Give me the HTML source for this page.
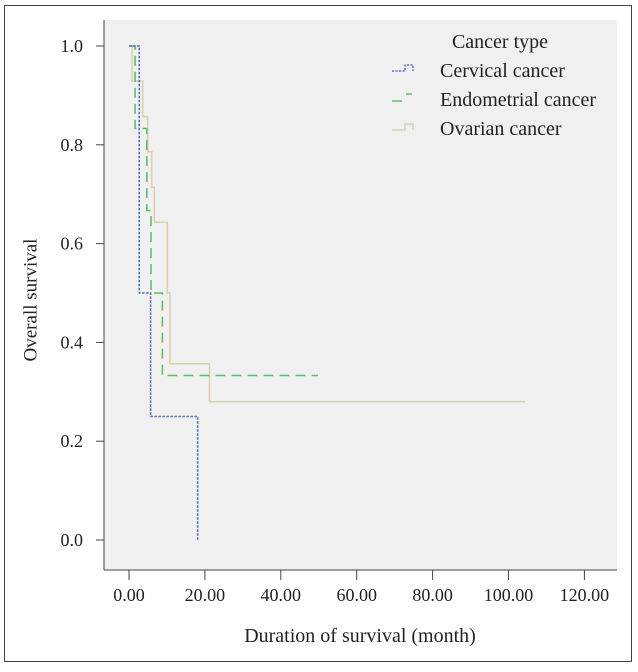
<!DOCTYPE html>
<html><head><meta charset="utf-8"><style>
html,body{margin:0;padding:0;background:#fff;}
svg text{font-family:"Liberation Serif",serif;fill:#222;}
</style></head><body>
<svg width="638" height="667" viewBox="0 0 638 667" xmlns="http://www.w3.org/2000/svg">
<rect x="4.5" y="5.5" width="627" height="656" fill="#fff" stroke="#444" stroke-width="1"/>
<rect x="104" y="20" width="513" height="550" fill="#f0f0f0"/>
<line x1="104" y1="20" x2="104" y2="570" stroke="#444"/>
<line x1="104" y1="570" x2="617" y2="570" stroke="#444"/>
<g id="yticks"></g>
<g id="xticks"></g>
<g id="series"></g>
<text x="32" y="300" font-size="19" text-anchor="middle" transform="rotate(-90 32 300)" dominant-baseline="middle">Overall survival</text>
<text x="360" y="642" font-size="20" text-anchor="middle">Duration of survival (month)</text>
<g>
<text x="500" y="48" font-size="20" text-anchor="middle">Cancer type</text>
<g>
<path d="M392 71 H405 V65 H413 V71" fill="none" stroke="#5a6fc0" stroke-width="1.5" stroke-dasharray="2,1.5"/>
<text x="440" y="77" font-size="20">Cervical cancer</text></g>
<g>
<path d="M392 101 H402 M406 94 H412" fill="none" stroke="#5cbf6a" stroke-width="1.5"/>
<text x="440" y="106" font-size="20">Endometrial cancer</text></g>
<g>
<path d="M392 130 H405 V124 H413 V130" fill="none" stroke="#d8d2b0" stroke-width="1.5"/>
<text x="440" y="135" font-size="20">Ovarian cancer</text></g>
</g>
</svg>
<script>
const xTicks=[0,20,40,60,80,100,120];
const xTickLabels=["0.00","20.00","40.00","60.00","80.00","100.00","120.00"];
const yTicks=[0,0.2,0.4,0.6,0.8,1.0];
const yTickLabels=["0.0","0.2","0.4","0.6","0.8","1.0"];
const cervicalTimes=[0,2.7,5.7,18.1];
const cervicalSurv=[1.0,0.5,0.25,0.0];
const endometrialTimes=[0,1.6,4.7,5.8,8.8];
const endometrialSurv=[1.0,0.833,0.667,0.5,0.333];
const endometrialEnd=49.8;
const ovarianTimes=[0,0.8,3.6,4.9,6.0,6.7,10.1,10.8,21.2];
const ovarianSurv=[1.0,0.929,0.857,0.786,0.714,0.643,0.5,0.357,0.28];
const ovarianEnd=104.4;

const NS="http://www.w3.org/2000/svg";
function X(v){return 129+v*3.795;}
function Y(s){return 540-s*494;}
const xg=document.getElementById('xticks'),yg=document.getElementById('yticks'),sg=document.getElementById('series');
xTicks.forEach((t,i)=>{
 const l=document.createElementNS(NS,'line');
 l.setAttribute('x1',X(t));l.setAttribute('x2',X(t));l.setAttribute('y1',570);l.setAttribute('y2',580);l.setAttribute('stroke','#444');
 
 
 xg.appendChild(l);
 const tx=document.createElementNS(NS,'text');
 tx.setAttribute('x',X(t));tx.setAttribute('y',601);tx.setAttribute('font-size','18');tx.setAttribute('text-anchor','middle');
 tx.textContent=xTickLabels[i];
 
 
 xg.appendChild(tx);
});
yTicks.forEach((t,i)=>{
 const l=document.createElementNS(NS,'line');
 l.setAttribute('x1',96);l.setAttribute('x2',104);l.setAttribute('y1',Y(t));l.setAttribute('y2',Y(t));l.setAttribute('stroke','#444');
 
 
 yg.appendChild(l);
 const tx=document.createElementNS(NS,'text');
 tx.setAttribute('x',83);tx.setAttribute('y',Y(t)+6);tx.setAttribute('font-size','18');tx.setAttribute('text-anchor','end');
 tx.textContent=yTickLabels[i];
 
 
 yg.appendChild(tx);
});
function step(times,surv,end){
 let d='M'+X(times[0])+' '+Y(surv[0]);
 for(let i=1;i<times.length;i++){d+=' H'+X(times[i])+' V'+Y(surv[i]);}
 if(end!==undefined)d+=' H'+X(end);
 return d;
}
function addPath(d,color,dash,name){
 const p=document.createElementNS(NS,'path');
 p.setAttribute('d',d);p.setAttribute('fill','none');p.setAttribute('stroke',color);p.setAttribute('stroke-width','1.6');
 if(dash)p.setAttribute('stroke-dasharray',dash);
 
 
 sg.appendChild(p);
}
addPath(step(ovarianTimes,ovarianSurv,ovarianEnd),'#d8d2b0',null,'ovarian-curve');
addPath(step(endometrialTimes,endometrialSurv,endometrialEnd),'#5cbf6a','10,6','endometrial-curve');
addPath(step(cervicalTimes,cervicalSurv),'#5a6fc0','2.5,1.5','cervical-curve');
</script>
</body></html>
